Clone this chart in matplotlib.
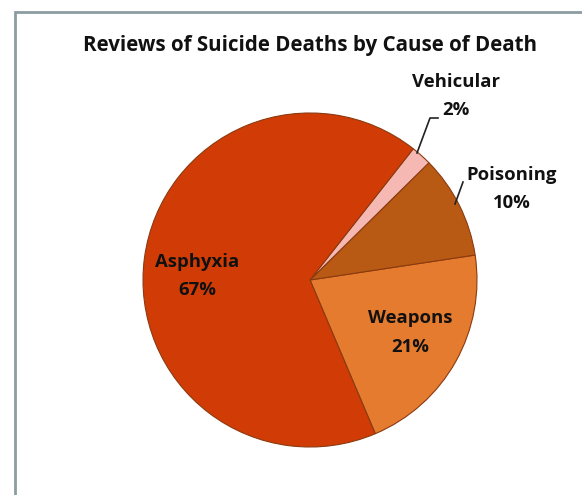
import matplotlib.pyplot as plt
from matplotlib.patches import Rectangle

# slice data, counter-clockwise from the lower edge of Weapons
causes = ["Weapons", "Poisoning", "Vehicular", "Asphyxia"]
shares = [21, 10, 2, 67]
colours = ["#E47B2E", "#B95A14", "#F6B8B2", "#D13C06"]

fig = plt.figure(figsize=(5.82, 4.95), dpi=100)
ax = fig.add_axes([0, 0, 1, 1])

ax.pie(shares, colors=colours, startangle=-67, counterclock=True,
       center=(310, 495 - 280), radius=167, frame=True,
       wedgeprops=dict(edgecolor="#8B3A10", linewidth=0.8))
ax.set_xlim(0, 582)
ax.set_ylim(0, 495)
ax.set_aspect("equal")
ax.axis("off")

font = dict(family=["Open Sans", "DejaVu Sans"], fontweight="bold", color="#111111")

ax.text(310, 495 - 46, "Reviews of Suicide Deaths by Cause of Death",
        ha="center", va="center", fontsize=14.8, **font)

# label positions in pixels from the top-left corner: (x, y name, y percent)
label_pos = {"Weapons": (410, 318, 347), "Poisoning": (512, 175, 203),
             "Vehicular": (456, 82, 110), "Asphyxia": (197, 262, 290)}
for name, val in zip(causes, shares):
    x, y1, y2 = label_pos[name]
    ax.text(x, 495 - y1, name, ha="center", va="center", fontsize=13.3, **font)
    ax.text(x, 495 - y2, f"{val}%", ha="center", va="center", fontsize=13.3, **font)

# leader lines
ax.plot([417, 430, 438], [495 - 153, 495 - 118, 495 - 118], color="#222222", lw=1.2)
ax.plot([455, 463], [495 - 204, 495 - 182], color="#222222", lw=1.2)

fig.add_artist(Rectangle((15 / 582, -0.1), 1.2, (495 - 12) / 495 + 0.1,
                         transform=fig.transFigure, fill=False,
                         edgecolor="#8C9DA2", linewidth=2))

fig.savefig("out.png", dpi=100)
